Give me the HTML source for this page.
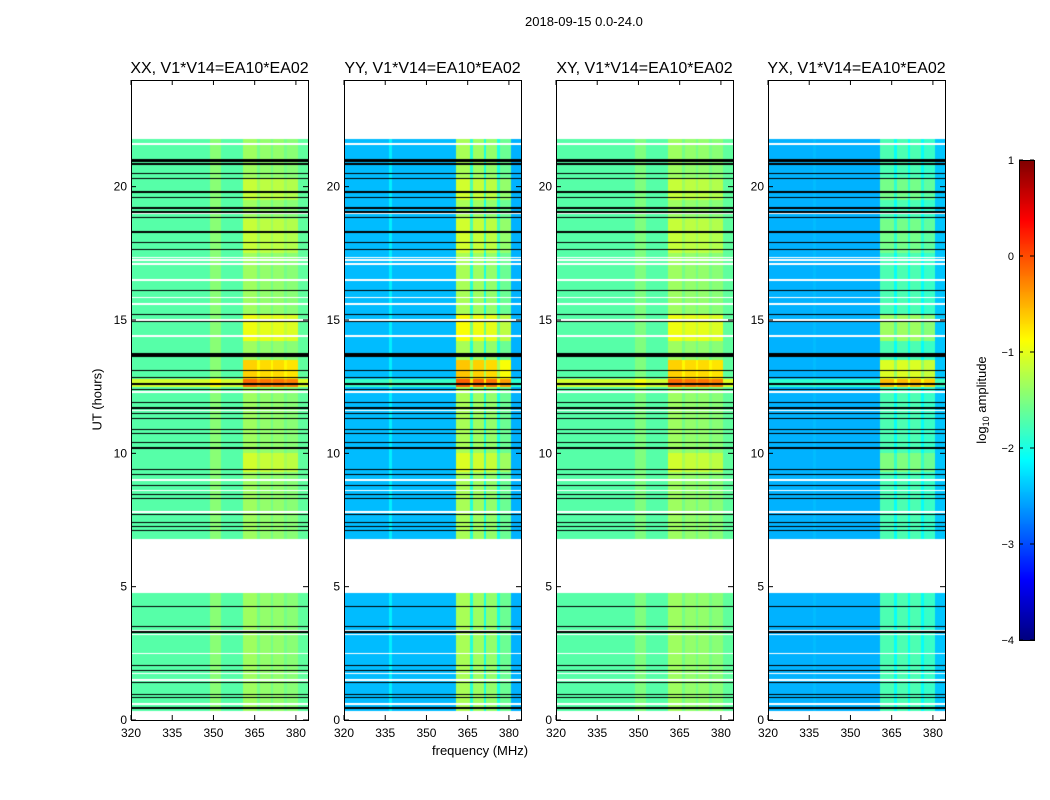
<!DOCTYPE html>
<html><head><meta charset="utf-8">
<style>
body{margin:0;background:#fff;}
#root{position:relative;width:1050px;height:800px;background:#fff;font-family:"Liberation Sans",sans-serif;color:#000;overflow:hidden;}
.t{position:absolute;white-space:nowrap;}
canvas{position:absolute;}
</style></head>
<body>
<div id="root">
<div class="t" style="left:525px;top:14px;font-size:13px;">2018-09-15 0.0-24.0</div>
<div class="t" style="left:52px;top:392px;font-size:13px;transform:rotate(-90deg);transform-origin:center;width:90px;text-align:center;">UT (hours)</div>
<div class="t" style="left:432px;top:743px;font-size:13px;">frequency (MHz)</div>
<svg id="svg" width="1050" height="800" style="position:absolute;left:0;top:0"></svg>
</div>
<script>
const panelNames = ['XX, V1*V14=EA10*EA02','YY, V1*V14=EA10*EA02','XY, V1*V14=EA10*EA02','YX, V1*V14=EA10*EA02'];
const bandEdges = [320,336.5,337.5,349,353,361,366,367,371,372,376,377,381,384.4];
const levelsXX = [-1.7,-1.7,-1.7,-1.45,-1.7,-1.35,-1.55,-1.4,-1.55,-1.4,-1.55,-1.45,-1.65];
const levelsYY = [-2.45,-2.2,-2.45,-2.45,-2.45,-1.3,-1.95,-1.35,-2.0,-1.4,-2.0,-1.6,-2.5];
const levelsXY = [-1.7,-1.7,-1.7,-1.5,-1.7,-1.35,-1.55,-1.4,-1.55,-1.4,-1.55,-1.45,-1.65];
const levelsYX = [-2.5,-2.45,-2.5,-2.5,-2.5,-1.75,-2.1,-1.75,-2.1,-1.75,-2.1,-1.85,-2.4];
const panelLevels = [levelsXX,levelsYY,levelsXY,levelsYX];
const boostStart = [12.5,12.8,9.3,14.2,17.5,19.5];
const boostEnd   = [12.8,13.5,10.0,15.2,18.8,20.3];
const boostAll   = [0.6,0.0,0.0,0.0,0.0,0.0];
const boostBright= [0.6,0.7,0.25,0.4,0.2,0.2];
const flagStart = [0,4.75,21.8];
const flagEnd   = [0.35,6.8,24];
const blackLines = [21.0,20.95,20.85,20.5,20.3,19.8,19.6,19.2,19.05,18.85,18.3,17.9,17.65,16.1,15.2,14.95,13.75,13.7,13.65,13.1,12.85,12.6,12.4,11.9,11.7,11.5,11.3,10.9,10.75,10.4,10.2,9.4,9.2,8.8,8.45,8.3,7.7,7.4,7.25,7.1,4.25,3.5,3.3,2.05,1.85,1.4,0.95,0.85,0.45];
const whiteLines = [21.6,19.0,17.35,17.25,17.1,16.5,15.85,15.6,15.0,14.4,12.3,11.6,9.0,8.6,7.8,3.35,3.2,2.5,1.75,1.5,0.6];
const xTicks = [320,335,350,365,380];
const yTicks = [0,5,10,15,20];
const cbTicks = [1,0,-1,-2,-3,-4];

const panelX = [131,344,556,768], PW=177, PT=80, PH=640;
const fmin=320,fmax=384.4,tmin=0,tmax=24;
const xs=(p,f)=>panelX[p]+(f-fmin)/(fmax-fmin)*PW;
const ys=t=>PT+PH-(t-tmin)/(tmax-tmin)*PH;
function jet(v){let x=(v+4)/5;x=Math.max(0,Math.min(1,x));
 const r=Math.max(0,Math.min(1,1.5-Math.abs(4*x-3))),g=Math.max(0,Math.min(1,1.5-Math.abs(4*x-2))),b=Math.max(0,Math.min(1,1.5-Math.abs(4*x-1)));
 return `rgb(${r*255|0},${g*255|0},${b*255|0})`;}
const root=document.getElementById('root');const svg=document.getElementById('svg');const NS='http://www.w3.org/2000/svg';
function se(tag,attrs,name){const e=document.createElementNS(NS,tag);for(const k in attrs)e.setAttribute(k,attrs[k]);
 
 
 svg.appendChild(e);return e;}
for(let p=0;p<4;p++){
 const c=document.createElement('canvas');c.width=PW;c.height=PH;c.style.left=panelX[p]+'px';c.style.top=PT+'px';
 
 
 root.insertBefore(c,svg);
 const ctx=c.getContext('2d');const lv=panelLevels[p];
 for(let py=0;py<PH;py++){
  const t=tmax-(py+0.5)/PH*(tmax-tmin);
  let flagged=false;for(let i=0;i<flagStart.length;i++)if(t>=flagStart[i]&&t<flagEnd[i])flagged=true;
  if(flagged)continue;
  if(blackLines.some(b=>Math.abs(b-t)<0.025)){ctx.fillStyle='#000';ctx.fillRect(0,py,PW,1);continue;}
  if(whiteLines.some(b=>Math.abs(b-t)<0.025))continue;
  let ba=0,bb=0;for(let i=0;i<boostStart.length;i++)if(t>=boostStart[i]&&t<boostEnd[i]){ba+=boostAll[i];bb+=boostBright[i];}
  for(let b=0;b<lv.length;b++){
   const bright=bandEdges[b]>=361&&bandEdges[b+1]<=381.1;
   const v=lv[b]+ba+(bright?bb:0);
   ctx.fillStyle=jet(v);
   const x0=(bandEdges[b]-fmin)/(fmax-fmin)*PW,x1=(bandEdges[b+1]-fmin)/(fmax-fmin)*PW;
   ctx.fillRect(Math.floor(x0),py,Math.ceil(x1)-Math.floor(x0),1);
  }
 }
 se('rect',{x:panelX[p]+0.5,y:PT+0.5,width:PW,height:PH,fill:'none',stroke:'#000','stroke-width':1},'panel-frame-'+(p+1));
 const tt=se('text',{x:panelX[p]+PW/2,y:PT-7,'text-anchor':'middle','font-size':16,'font-family':'Liberation Sans'},'panel-title-'+(p+1));tt.textContent=panelNames[p];
 xTicks.forEach(f=>{const x=xs(p,f);
  se('line',{x1:x,x2:x,y1:PT+PH,y2:PT+PH-5,stroke:'#000'},'x-tick');
  se('line',{x1:x,x2:x,y1:PT,y2:PT+5,stroke:'#000'},'x-tick-top');
  const l=se('text',{x:x,y:PT+PH+17,'text-anchor':'middle','font-size':12,'font-family':'Liberation Sans'},'x-tick-label');l.textContent=f;});
 yTicks.forEach(v=>{const y=ys(v);
  se('line',{x1:panelX[p],x2:panelX[p]+5,y1:y,y2:y,stroke:'#000'},'y-tick');
  se('line',{x1:panelX[p]+PW,x2:panelX[p]+PW-5,y1:y,y2:y,stroke:'#000'},'y-tick-right');
  const l=se('text',{x:panelX[p]-4,y:y+4,'text-anchor':'end','font-size':12,'font-family':'Liberation Sans'},'y-tick-label');l.textContent=v;});
}
// colorbar
const CX=1019,CT=160,CW=15,CH=480;
const cc=document.createElement('canvas');cc.width=CW;cc.height=CH;cc.style.left=CX+'px';cc.style.top=CT+'px';


root.insertBefore(cc,svg);
const cx=cc.getContext('2d');for(let i=0;i<CH;i++){cx.fillStyle=jet(1-(i+0.5)/CH*5);cx.fillRect(0,i,CW,1);}
se('rect',{x:CX+0.5,y:CT+0.5,width:CW,height:CH,fill:'none',stroke:'#000'},'colorbar-frame');
cbTicks.forEach(v=>{const y=CT+(1-v)/5*CH;
 se('line',{x1:CX,x2:CX+4,y1:y,y2:y,stroke:'#000'},'colorbar-tick');
 se('line',{x1:CX+CW,x2:CX+CW-4,y1:y,y2:y,stroke:'#000'},'colorbar-tick');
 const l=se('text',{x:CX-5,y:y+4,'text-anchor':'end','font-size':11,'font-family':'Liberation Sans'},'colorbar-tick-label');l.textContent=v<0?'\u2212'+(-v):v;});
const cl=se('text',{x:986,y:400,'text-anchor':'middle','font-size':13,'font-family':'Liberation Sans',transform:'rotate(-90 986 400)'},'colorbar-label');
cl.innerHTML='log<tspan font-size="9" dy="3">10</tspan><tspan dy="-3"> amplitude</tspan>';
</script>
</body></html>
